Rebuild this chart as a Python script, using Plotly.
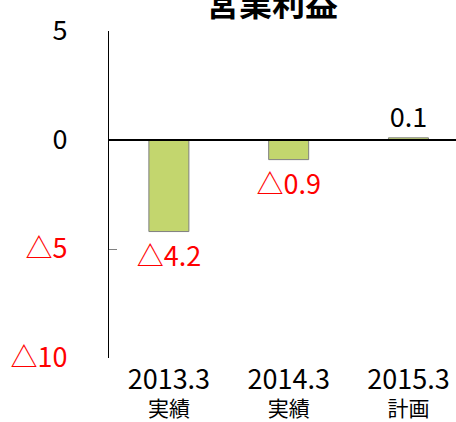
import plotly.graph_objects as go

periods = ["2013.3", "2014.3", "2015.3"]
kinds = ["実績", "実績", "計画"]
values = [-4.2, -0.9, 0.1]
y_tick_vals = [5, 0, -5, -10]
y_tick_labels = ["5", "0", "△5", "△10"]
title_text = "営業利益"

FONT = "Noto Sans CJK JP, Noto Sans, sans-serif"
NUM_SIZE = 27
CJK_SIZE = 21


def fmt(v):
    return f"△{abs(v):.1f}" if v < 0 else f"{v:.1f}"


labels = [fmt(v) for v in values]
label_colors = ["red" if v < 0 else "black" for v in values]
x_text = [f"<span style='font-size:{NUM_SIZE}px'>{p}</span><br>{k}" for p, k in zip(periods, kinds)]
y_text = [f"<span style='color:red'>{t}</span>" if t.startswith("△") else t for t in y_tick_labels]

fig = go.Figure()
fig.add_trace(go.Bar(
    x=periods,
    y=values,
    width=0.334,
    marker=dict(color="#C3D66E", line=dict(color="#7F7F7F", width=1)),
    text=labels,
    textposition="outside",
    textfont=dict(family=FONT, size=NUM_SIZE, color=label_colors),
    constraintext="none",
    cliponaxis=False,
    hoverinfo="skip",
))

fig.add_shape(type="line", xref="paper", yref="y", x0=0, x1=1, y0=0, y1=0,
              line=dict(color="black", width=2), layer="above")

fig.add_annotation(text=f"<b>{title_text}</b>", xref="paper", yref="paper",
                   x=0.471, y=1.089, xanchor="center", yanchor="middle",
                   showarrow=False, font=dict(family=FONT, size=33, color="black"))

fig.update_layout(
    width=456, height=422,
    margin=dict(l=109, r=0, t=31, b=64, autoexpand=False),
    paper_bgcolor="white", plot_bgcolor="white",
    showlegend=False,
    font=dict(family=FONT, size=NUM_SIZE, color="black"),
    xaxis=dict(
        type="category", range=[-0.5, 2.397], automargin=False,
        tickvals=periods, ticktext=x_text,
        showline=False, showgrid=False, zeroline=False,
        ticks="", ticklabelstandoff=9,
        tickfont=dict(family=FONT, size=CJK_SIZE, color="black"),
    ),
    yaxis=dict(
        range=[-10, 5], tickvals=y_tick_vals, ticktext=y_text, automargin=False,
        showline=True, linecolor="black", linewidth=1,
        ticks="inside", ticklen=8, tickcolor="#808080", tickwidth=1,
        showgrid=False, zeroline=False,
        ticklabelstandoff=35,
        tickfont=dict(family=FONT, size=NUM_SIZE, color="black"),
    ),
)

fig.write_html("out.html", config={"displayModeBar": False},
               post_script="document.body.style.margin='0';")
